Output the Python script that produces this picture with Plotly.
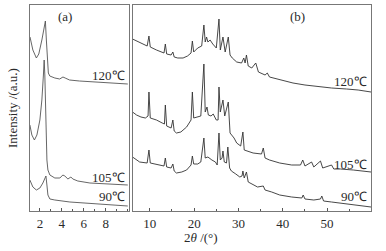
import plotly.graph_objects as go

# ---------------- Panel (a): low-angle XRD ----------------
a_x_120 = [1.1, 1.36, 1.68, 1.9, 2.18, 2.36, 2.5, 2.59, 2.68, 2.77, 2.9, 3.36, 3.8, 4.1, 4.3, 4.7, 5.6, 7.0, 8.4, 10.0]
a_y_120 = [179, 166, 158, 162, 176, 189, 195, 176, 154, 143, 140, 138, 137, 139, 138, 136, 135, 134, 133, 132]

a_x_105 = [1.09, 1.27, 1.5, 1.73, 2.0, 2.18, 2.32, 2.39, 2.45, 2.55, 2.64, 2.73, 2.91, 3.36, 3.82, 4.09, 4.27, 4.55, 4.82, 5.0, 5.45, 6.55, 10.0]
a_y_105 = [91, 81, 76, 81, 96, 116, 141, 156, 141, 96, 56, 46, 41, 38, 38, 41, 40, 37, 39, 37, 35, 33, 31]

a_x_90 = [1.09, 1.36, 1.68, 2.0, 2.27, 2.45, 2.55, 2.64, 2.73, 2.91, 3.36, 4.73, 7.45, 10.0]
a_y_90 = [36, 29, 26, 28, 33, 38, 40, 31, 21, 17, 16, 14, 12, 10]

a_ticks = [2, 4, 6, 8]

# ---------------- Panel (b): wide-angle XRD ----------------
b_x_120 = [6.1, 7.0, 8.0, 9.4, 9.8, 10.1, 11.5, 13.2, 13.5, 13.8, 14.8, 15.2, 15.5, 16.3, 17.5, 18.5, 19.3, 19.6, 19.9,
           20.8, 21.7, 22.2, 22.5, 22.8, 23.1, 23.6, 24.2, 25.0, 25.6, 25.9, 26.5, 27.0, 27.7, 28.1, 28.6, 29.6, 30.7,
           31.2, 31.5, 31.8, 32.2, 33.0, 33.9, 34.5, 36.0, 36.5, 37.0, 37.8, 40.0, 42.3, 45.0, 48.4, 51.0, 54.4, 57.0, 59.9]
b_y_120 = [177, 175, 173, 170, 180, 169, 166, 163, 172, 162, 161, 164, 159, 158, 158, 160, 163, 175, 164,
           168, 170, 191, 174, 179, 174, 176, 172, 168, 197, 166, 179, 164, 179, 161, 158, 154, 153,
           158, 153, 161, 150, 148, 153, 144, 141, 143, 139, 138, 136, 133, 131, 129, 128, 127, 126, 124]

b_x_105 = [6.1, 7.0, 8.0, 9.0, 9.6, 9.8, 10.1, 11.5, 12.8, 13.3, 13.5, 13.8, 14.8, 15.2, 15.5, 16.0, 17.0, 18.3, 19.3,
           19.6, 19.9, 20.8, 21.5, 22.2, 22.5, 22.9, 23.2, 23.8, 24.3, 25.0, 25.4, 25.6, 25.9, 26.5, 26.9, 27.7, 28.1,
           29.0, 29.6, 30.5, 31.0, 31.3, 32.5, 33.3, 35.2, 35.6, 36.0, 37.0, 39.3, 42.0, 44.0, 44.5, 45.0, 46.5, 47.0,
           48.5, 49.0, 51.0, 51.5, 53.0, 55.9, 57.5, 59.9]
b_y_105 = [104, 101, 99, 98, 100, 124, 98, 96, 93, 92, 111, 90, 88, 96, 85, 83, 84, 89, 96,
           124, 98, 99, 100, 152, 104, 109, 101, 100, 102, 96, 96, 129, 104, 116, 100, 114, 83,
           78, 73, 70, 84, 66, 64, 63, 62, 68, 58, 56, 53, 51, 51, 56, 50, 54, 49,
           55, 48, 51, 47, 47, 46, 45, 44]

b_x_90 = [6.1, 7.0, 7.7, 9.4, 9.8, 10.1, 11.0, 12.3, 13.2, 13.5, 13.8, 14.8, 15.2, 15.5, 16.0, 17.2, 18.3, 19.3, 19.6,
          19.9, 20.8, 21.5, 22.2, 22.5, 23.1, 24.0, 24.8, 25.2, 25.6, 25.9, 26.3, 26.5, 26.8, 27.3, 27.6, 28.0, 28.4,
          29.4, 30.3, 30.8, 31.0, 31.3, 31.8, 32.2, 33.3, 34.3, 35.6, 36.0, 37.5, 39.3, 42.0, 44.3, 44.6, 45.0, 47.0,
          48.5, 48.8, 49.2, 51.0, 54.4, 57.0, 59.9]
b_y_90 = [59, 56, 54, 53, 66, 53, 52, 51, 50, 58, 49, 48, 52, 45, 43, 44, 46, 51, 60,
          52, 52, 54, 78, 58, 59, 56, 54, 51, 83, 56, 58, 65, 54, 53, 69, 48, 45,
          42, 39, 40, 45, 38, 44, 34, 31, 29, 30, 26, 24, 21, 19, 18, 21, 17, 16,
          17, 20, 15, 14, 12, 11, 9]

b_ticks = [10, 20, 30, 40, 50]

temps = ["120℃", "105℃", "90℃"]
a_label_y = [141, 39, 20]
b_label_y = [135, 52, 20]

FONT = "Times New Roman, Liberation Serif, serif"
TXT = "#2a2a2a"

fig = go.Figure()
for xs, ys in [(a_x_120, a_y_120), (a_x_105, a_y_105), (a_x_90, a_y_90)]:
    fig.add_trace(go.Scatter(x=xs, y=ys, mode="lines", line=dict(color="#555555", width=0.9),
                             xaxis="x", yaxis="y", showlegend=False, hoverinfo="skip"))
for xs, ys in [(b_x_120, b_y_120), (b_x_105, b_y_105), (b_x_90, b_y_90)]:
    fig.add_trace(go.Scatter(x=xs, y=ys, mode="lines", line=dict(color="#333333", width=0.9),
                             xaxis="x2", yaxis="y2", showlegend=False, hoverinfo="skip"))

frame = dict(showline=True, linecolor="#777777", linewidth=1, mirror=True,
             showgrid=False, zeroline=False)
xtick = dict(ticks="inside", ticklen=3, tickcolor="#555555",
             tickfont=dict(family=FONT, size=13, color=TXT))

fig.update_layout(
    width=386, height=251,
    margin=dict(l=30, r=15, t=5, b=40),
    paper_bgcolor="white", plot_bgcolor="white",
    font=dict(family=FONT, size=13, color=TXT),
    hovermode=False,
    xaxis=dict(domain=[0, 0.290], range=[1.1, 10.1], tickvals=a_ticks,
               minor=dict(dtick=1, tick0=0, ticks="inside", ticklen=2, tickcolor="#555555"),
               **frame, **xtick),
    xaxis2=dict(domain=[0.302, 1], range=[6.2, 59.9], tickvals=b_ticks,
                minor=dict(dtick=5, tick0=0, ticks="inside", ticklen=2, tickcolor="#555555"),
                **frame, **xtick),
    yaxis=dict(range=[5, 211], showticklabels=False, ticks="", anchor="x", **frame),
    yaxis2=dict(range=[5, 211], showticklabels=False, ticks="", anchor="x2", **frame),
)

annos = []
for t, yv in zip(temps, a_label_y):
    annos.append(dict(x=9.95, y=yv, xref="x", yref="y", text=t, showarrow=False, xanchor="right",
                      yanchor="middle", font=dict(family=FONT, size=13, color=TXT)))
for t, yv in zip(temps, b_label_y):
    annos.append(dict(x=59.5, y=yv, xref="x2", yref="y2", text=t, showarrow=False, xanchor="right",
                      yanchor="middle", font=dict(family=FONT, size=13, color=TXT)))
annos.append(dict(x=4.3, y=200, xref="x", yref="y", text="(a)", showarrow=False,
                  font=dict(family=FONT, size=13, color=TXT)))
annos.append(dict(x=43.4, y=200, xref="x2", yref="y2", text="(b)", showarrow=False,
                  font=dict(family=FONT, size=13, color=TXT)))
annos.append(dict(x=0, y=0.5, xref="paper", yref="paper", text="Intensity /(a.u.)", showarrow=False,
                  textangle=-90, xanchor="center", yanchor="middle", xshift=-18,
                  font=dict(family=FONT, size=13, color=TXT)))
annos.append(dict(x=0.5, y=0, xref="paper", yref="paper", text="2<i>θ</i> /(°)", showarrow=False,
                  xanchor="center", yanchor="middle", yshift=-26,
                  font=dict(family=FONT, size=13, color=TXT)))
fig.update_layout(annotations=annos)

fig.write_html("out.html", config={"displayModeBar": False, "staticPlot": True},
               post_script="document.body.style.margin='0px';document.body.style.overflow='hidden';")
